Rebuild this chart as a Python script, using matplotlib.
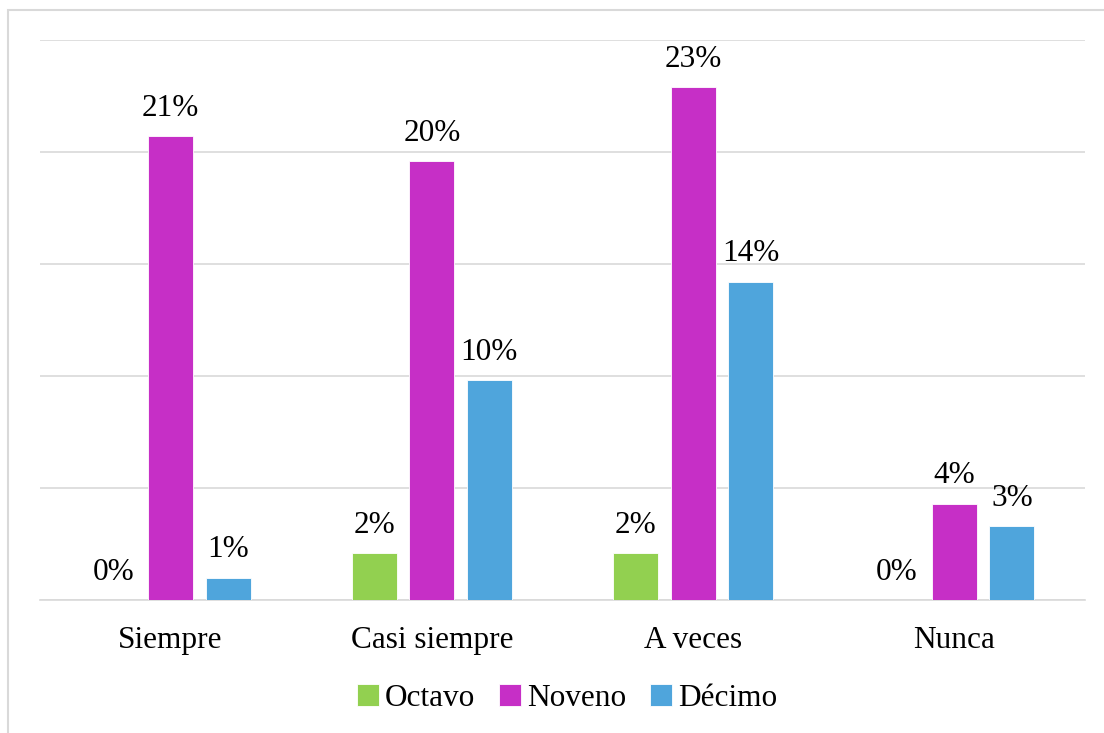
import matplotlib.pyplot as plt
import numpy as np
from matplotlib.patches import Rectangle

plt.rcParams['font.family'] = ['Liberation Serif', 'DejaVu Serif']

categories = ["Siempre", "Casi siempre", "A veces", "Nunca"]
series = ["Octavo", "Noveno", "Décimo"]
octavo = [0.0, 2.1, 2.1, 0.0]
noveno = [20.7, 19.6, 22.9, 4.3]
decimo = [1.0, 9.8, 14.2, 3.3]
colors = ["#92D050", "#C62FC6", "#4FA5DC"]

fig = plt.figure(figsize=(11.04, 7.33), dpi=100)
ax = fig.add_axes([40 / 1104, 1 - 600 / 733, 1045 / 1104, 560 / 733])

x = np.arange(len(categories))
width = 0.172
offset = 0.22

for i, (name, vals) in enumerate(zip(series, [octavo, noveno, decimo])):
    pos = x + (i - 1) * offset
    ax.bar(pos, vals, width, color=colors[i], label=name,
           edgecolor="white", linewidth=0.6, zorder=3)
    # data labels
    for px, v in zip(pos, vals):
        ax.text(px, v + 0.6, f"{round(v)}%", ha="center", va="bottom",
                fontsize=22.5, color="black")

ax.set_xlim(-0.5, 3.5)
ax.set_ylim(0, 25)
ax.set_yticks(np.arange(0, 26, 5))
ax.yaxis.grid(True, color="#D9D9D9", linewidth=1.2, zorder=0)
ax.tick_params(axis="y", left=False, labelleft=False)
ax.set_xticks(x)
ax.set_xticklabels(categories, fontsize=22.5)
ax.tick_params(axis="x", length=0, pad=19)
for s in ["top", "right", "left"]:
    ax.spines[s].set_visible(False)
ax.spines["bottom"].set_color("#D9D9D9")
ax.spines["bottom"].set_linewidth(1.2)

fig.legend(loc="center", bbox_to_anchor=(567 / 1104, 1 - 698 / 733), ncol=3,
           frameon=False, fontsize=22.5, handlelength=0.7, handleheight=0.7,
           handletextpad=0.2, columnspacing=0.75)

# outer chart border (top and left visible)
fig.patches.append(Rectangle((8 / 1104, -0.01), 1.1, 1 - 10 / 733 + 0.01,
                             transform=fig.transFigure, fill=False,
                             edgecolor="#D9D9D9", linewidth=1.5))

fig.savefig("out.png", dpi=100)
